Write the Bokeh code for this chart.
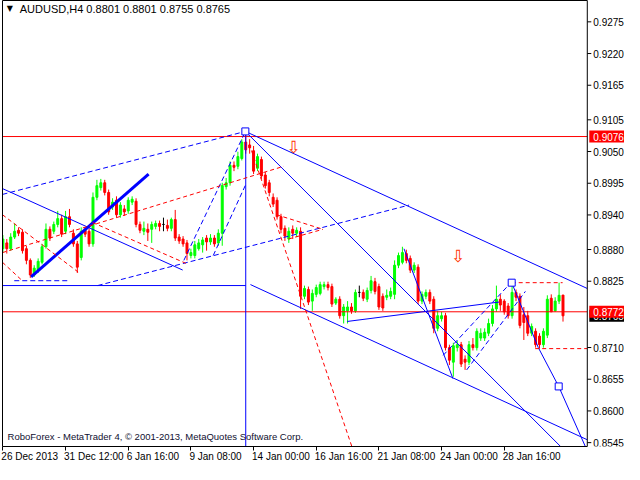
from bokeh.plotting import figure
from bokeh.models import Range1d, FixedTicker, Label, ColumnDataSource, Span, LinearAxis
from bokeh.embed import file_html
from bokeh.resources import INLINE
from bokeh.core.properties import value

title_text = "AUDUSD,H4  0.8801 0.8801 0.8755 0.8765"
footer_text = "RoboForex - MetaTrader 4, \u00a9 2001-2013, MetaQuotes Software Corp."

opens = [0.88814, 0.88915, 0.88814, 0.89016, 0.89134, 0.89100, 0.88814, 0.88612, 0.88359, 0.88443,
         0.88578, 0.88848, 0.89151, 0.89117, 0.89235, 0.89336, 0.89117, 0.89369, 0.89083, 0.88898,
         0.88662, 0.89134, 0.89117, 0.88898, 0.89706, 0.89874, 0.89958, 0.89790, 0.89538, 0.89655,
         0.89403, 0.89504, 0.89470, 0.89622, 0.89638, 0.89235, 0.89117, 0.89151, 0.89151, 0.89201,
         0.89252, 0.89235, 0.89218, 0.89168, 0.89319, 0.89016, 0.88982, 0.88915, 0.88696, 0.88696,
         0.88814, 0.88881, 0.88999, 0.88932, 0.88999, 0.88915, 0.89083, 0.89891, 0.89958, 0.90261,
         0.90244, 0.90379, 0.90664, 0.90614, 0.90513, 0.90210, 0.90362, 0.90093, 0.89958, 0.89706,
         0.89655, 0.89369, 0.89168, 0.88982, 0.89151, 0.89083, 0.89117, 0.87989, 0.88107, 0.87905,
         0.88022, 0.88039, 0.88157, 0.88191, 0.88157, 0.87871, 0.87938, 0.87652, 0.87736, 0.87803,
         0.87736, 0.88056, 0.88056, 0.87938, 0.88090, 0.88242, 0.88157, 0.87989, 0.87972, 0.87989,
         0.88022, 0.88528, 0.88578, 0.88730, 0.88646, 0.88443, 0.88494, 0.87905, 0.87989, 0.88056,
         0.87938, 0.87433, 0.87601, 0.87652, 0.87098, 0.86846, 0.87098, 0.87149, 0.86897, 0.86846,
         0.87149, 0.87098, 0.87264, 0.87264, 0.87348, 0.87517, 0.87770, 0.87938, 0.87905, 0.87820,
         0.87652, 0.88056, 0.87989, 0.87669, 0.87652, 0.87348, 0.87382, 0.87298, 0.87149, 0.87315,
         0.87955, 0.87736, 0.87905, 0.8801]
highs = [0.89050, 0.88982, 0.89083, 0.89252, 0.89185, 0.89151, 0.88865, 0.88646, 0.88528, 0.88646,
         0.88898, 0.89252, 0.89201, 0.89285, 0.89470, 0.89403, 0.89470, 0.89504, 0.89151, 0.88949,
         0.89185, 0.89185, 0.89168, 0.89790, 0.90009, 0.90025, 0.90009, 0.89840, 0.89689, 0.89723,
         0.89622, 0.89571, 0.89706, 0.89723, 0.89689, 0.89285, 0.89285, 0.89252, 0.89285, 0.89302,
         0.89302, 0.89353, 0.89319, 0.89353, 0.89487, 0.89067, 0.89033, 0.88966, 0.88814, 0.88949,
         0.88982, 0.89016, 0.89050, 0.89067, 0.89050, 0.89151, 0.89958, 0.90042, 0.90328, 0.90328,
         0.90496, 0.90715, 0.90800, 0.90715, 0.90597, 0.90463, 0.90412, 0.90143, 0.90009, 0.89773,
         0.89706, 0.89420, 0.89218, 0.89185, 0.89218, 0.89185, 0.89185, 0.88174, 0.88157, 0.88107,
         0.88191, 0.88242, 0.88242, 0.88242, 0.88208, 0.87972, 0.87989, 0.87854, 0.87905, 0.87871,
         0.88107, 0.88174, 0.88107, 0.88140, 0.88342, 0.88308, 0.88208, 0.88039, 0.88107, 0.88140,
         0.88612, 0.88747, 0.88848, 0.88797, 0.88696, 0.88578, 0.88544, 0.88073, 0.88107, 0.88107,
         0.87989, 0.87736, 0.87719, 0.87702, 0.87149, 0.87183, 0.87214, 0.87197, 0.86964, 0.87214,
         0.87264, 0.87433, 0.87433, 0.87433, 0.87601, 0.87837, 0.88174, 0.88022, 0.87938, 0.87871,
         0.88242, 0.88107, 0.88039, 0.87803, 0.87736, 0.87517, 0.87433, 0.87348, 0.87433, 0.88006,
         0.88022, 0.87972, 0.88225, 0.8801]
lows = [0.88747, 0.88730, 0.88780, 0.88982, 0.89033, 0.88730, 0.88544, 0.88308, 0.88325, 0.88393,
        0.88544, 0.88814, 0.88949, 0.89067, 0.89185, 0.89016, 0.89067, 0.89185, 0.88848, 0.88393,
        0.88612, 0.89016, 0.88848, 0.88848, 0.89655, 0.89823, 0.89739, 0.89403, 0.89487, 0.89353,
        0.89353, 0.89386, 0.89420, 0.89571, 0.89185, 0.89083, 0.89050, 0.88949, 0.88915, 0.89151,
        0.89117, 0.89117, 0.89117, 0.89117, 0.88949, 0.88898, 0.88848, 0.88612, 0.88646, 0.88646,
        0.88780, 0.88747, 0.88780, 0.88881, 0.88848, 0.88865, 0.88865, 0.89840, 0.89908, 0.90160,
        0.90193, 0.90345, 0.90463, 0.90463, 0.90109, 0.90160, 0.90025, 0.89857, 0.89723, 0.89538,
        0.89319, 0.89083, 0.88949, 0.88915, 0.88982, 0.89016, 0.87770, 0.87938, 0.87837, 0.87736,
        0.87972, 0.88006, 0.88107, 0.88090, 0.87803, 0.87837, 0.87601, 0.87517, 0.87517, 0.87685,
        0.87702, 0.87972, 0.87905, 0.87888, 0.88039, 0.88022, 0.87753, 0.87736, 0.87921, 0.87938,
        0.87938, 0.88477, 0.88544, 0.88561, 0.88393, 0.88393, 0.87854, 0.87854, 0.87938, 0.87854,
        0.87348, 0.87382, 0.87551, 0.87048, 0.86796, 0.86594, 0.87031, 0.86762, 0.86712, 0.86796,
        0.87048, 0.87048, 0.87214, 0.87214, 0.87298, 0.87466, 0.87719, 0.87736, 0.87669, 0.87601,
        0.87601, 0.87905, 0.87433, 0.87231, 0.87298, 0.87298, 0.87098, 0.87081, 0.87098, 0.87264,
        0.87719, 0.87719, 0.87854, 0.8755]
closes = [0.88982, 0.88814, 0.89016, 0.89117, 0.89083, 0.88780, 0.88612, 0.88359, 0.88477, 0.88595,
          0.88848, 0.89151, 0.88999, 0.89235, 0.89336, 0.89067, 0.89369, 0.89235, 0.88898, 0.88494,
          0.89117, 0.89067, 0.88898, 0.89706, 0.89908, 0.89958, 0.89790, 0.89453, 0.89622, 0.89403,
          0.89571, 0.89453, 0.89655, 0.89672, 0.89235, 0.89134, 0.89168, 0.89100, 0.89235, 0.89252,
          0.89201, 0.89235, 0.89168, 0.89319, 0.88999, 0.88949, 0.88898, 0.88730, 0.88747, 0.88881,
          0.88915, 0.88966, 0.88932, 0.88999, 0.88898, 0.89083, 0.89908, 0.89958, 0.90261, 0.90227,
          0.90412, 0.90664, 0.90530, 0.90564, 0.90160, 0.90412, 0.90076, 0.89908, 0.89790, 0.89588,
          0.89369, 0.89151, 0.89033, 0.89117, 0.89083, 0.89134, 0.87989, 0.88124, 0.87888, 0.88039,
          0.88140, 0.88191, 0.88191, 0.88140, 0.87854, 0.87938, 0.87652, 0.87803, 0.87803, 0.87736,
          0.88056, 0.88056, 0.87955, 0.88090, 0.88258, 0.88073, 0.87803, 0.87786, 0.88006, 0.88073,
          0.88528, 0.88696, 0.88747, 0.88612, 0.88443, 0.88528, 0.87905, 0.88022, 0.88056, 0.87905,
          0.87433, 0.87652, 0.87652, 0.87098, 0.86880, 0.87132, 0.87149, 0.86813, 0.86846, 0.87149,
          0.87098, 0.87382, 0.87348, 0.87365, 0.87517, 0.87770, 0.87938, 0.87837, 0.87719, 0.87652,
          0.88056, 0.87972, 0.87483, 0.87534, 0.87348, 0.87466, 0.87149, 0.87149, 0.87382, 0.87938,
          0.87719, 0.87905, 0.88006, 0.8765]

time_tick_bars = [0, 16, 32, 48, 64, 80, 96, 112, 128]
time_tick_labels = ["26 Dec 2013", "31 Dec 12:00", "6 Jan 16:00", "9 Jan 08:00", "14 Jan 00:00",
                    "16 Jan 16:00", "21 Jan 08:00", "24 Jan 00:00", "28 Jan 16:00"]
price_ticks = [0.9275, 0.9220, 0.9165, 0.9105, 0.9050, 0.8995, 0.8940, 0.8880, 0.8825,
               0.8710, 0.8655, 0.8600, 0.8545]
level_high = 0.9076
level_now = 0.8772
bid_price = 0.8765

# drawn objects (bar index, price)
blue_solid = [
    ([-0.1, 45.9], [0.89857, 0.88444]),
    ([61.9, 149.2], [0.90849, 0.88124]),
    ([61.9, 149.2], [0.90849, 0.84920]),
    ([63.2, 149.2], [0.88192, 0.85500]),
    ([87.9, 126.7], [0.87552, 0.87889]),
    ([102.4, 114.9], [0.88814, 0.86560]),
    ([129.9, 136.7, 141.9, 148.7], [0.88225, 0.87098, 0.86425, 0.85383]),
    ([-0.5, 62.0], [0.88175, 0.88175]),
    ([62.0, 62.0], [0.90849, 0.85300]),
]
blue_thick = [([7.2, 37.2], [0.88326, 0.90109])]
blue_dashed = [
    ([-0.1, 61.9], [0.89756, 0.90849]),
    ([24.2, 103.7], [0.88175, 0.89571]),
    ([2.9, 17.2], [0.88259, 0.88259]),
    ([46.2, 61.7], [0.88612, 0.90816]),
    ([53.7, 62.2], [0.88696, 0.89958]),
    ([112.4, 129.7], [0.86964, 0.88225]),
    ([118.4, 133.4], [0.86711, 0.88074]),
]
red_dashed = [
    ([-0.1, 71.7], [0.88747, 0.90244]),
    ([62.9, 89.5], [0.90631, 0.85300]),
    ([-0.1, 19.2], [0.89403, 0.88410]),
    ([22.9, 46.7], [0.89268, 0.88561]),
    ([-0.1, 4.7], [0.88578, 0.88275]),
    ([69.9, 81.7], [0.89403, 0.89151]),
    ([72.9, 81.7], [0.88982, 0.89151]),
    ([129.9, 142.9], [0.88225, 0.88225]),
    ([135.9, 149.2], [0.87081, 0.87081]),
]
squares_x = [61.9, 129.9, 141.9]
squares_y = [0.90849, 0.88225, 0.86425]
arrows_x = [74.2, 116.2]
arrows_y = [0.9058, 0.88696]

FONT = "Liberation Sans"
W, H = 624, 464
X0, X_EDGE, X1 = -0.1, 149.2, 158.7     # chart area ends at X_EDGE; price scale lives to the right
Y0, Y1 = 0.85383, 0.93120

p = figure(width=W, height=H, x_range=Range1d(X0, X1), y_range=Range1d(Y0, Y1),
           output_backend="svg", toolbar_location=None, x_axis_location=None, y_axis_location=None,
           min_border_left=2, min_border_top=0, min_border_right=0, min_border_bottom=0)
p.outline_line_color = None
p.grid.visible = False
p.background_fill_color = "white"
p.border_fill_color = "white"

px_per_bar = (W - 2) / (X1 - X0)

# border lines via axes (left, top, bottom)
left_ax = LinearAxis(ticker=FixedTicker(ticks=[]), major_tick_line_color=None, minor_tick_line_color=None,
                     major_label_text_font_size="0px", axis_line_color="black",
                     major_tick_out=0, major_tick_in=0, minor_tick_out=0, major_label_standoff=0)
p.add_layout(left_ax, "left")
top_ax = LinearAxis(ticker=FixedTicker(ticks=[]), major_tick_line_color=None, minor_tick_line_color=None,
                    major_label_text_font_size="0px", axis_line_color="black", bounds=(X0, X_EDGE),
                    major_tick_out=0, major_tick_in=0, minor_tick_out=0, major_label_standoff=0)
p.add_layout(top_ax, "above")

# bottom axis: tick marks
tick_ax = LinearAxis(ticker=FixedTicker(ticks=time_tick_bars), bounds=(X0, X_EDGE),
                     major_label_overrides={t: "" for t in time_tick_bars},
                     major_label_text_font_size="0px", major_label_standoff=0,
                     axis_line_color="black", major_tick_line_color="black",
                     major_tick_out=4, major_tick_in=0, minor_tick_line_color=None,
                     minor_tick_out=0, minor_tick_in=0)
p.add_layout(tick_ax, "below")

# bottom axis: left-aligned date labels (centre shifted by half the label width)
cw = {" ": 2.78, ":": 2.78, "D": 7.22, "e": 5.56, "c": 5.0, "J": 5.0, "a": 5.56, "n": 5.56}
centers, overrides = [], {}
for tb, tl in zip(time_tick_bars, time_tick_labels):
    wpx = sum(cw.get(ch, 5.56) for ch in tl)
    c = round(tb + (wpx / 2 - 1.5) / px_per_bar, 2)
    centers.append(c)
    overrides[c] = tl
lab_ax = LinearAxis(ticker=FixedTicker(ticks=centers), major_label_overrides=overrides,
                    major_label_text_font=FONT, major_label_text_font_size="10px",
                    major_label_text_color="black", major_label_standoff=0,
                    axis_line_color=None, major_tick_line_color=None, minor_tick_line_color=None,
                    major_tick_out=0, major_tick_in=0, minor_tick_out=0, minor_tick_in=0)
p.add_layout(lab_ax, "below")

# candles
n = len(opens)
bars = list(range(n))
colors = ["#00ff00" if c > o else ("#ff0000" if c < o else "#000000") for o, c in zip(opens, closes)]
src = ColumnDataSource(dict(x=bars, h=highs, l=lows,
                            top=[max(o, c) for o, c in zip(opens, closes)],
                            bottom=[min(o, c) for o, c in zip(opens, closes)],
                            color=colors))
p.segment(x0="x", y0="l", x1="x", y1="h", line_color="color", line_width=1, source=src)
p.vbar(x="x", width=0.5, top="top", bottom="bottom", fill_color="color", line_color="color",
       line_width=1, source=src)

# horizontal levels (chart area only)
for lv in [level_high, level_now]:
    p.line([X0, X_EDGE], [lv, lv], line_color="#ff0000", line_width=1)

for xs, ys in blue_solid:
    p.line(xs, ys, line_color="#0000ff", line_width=1)
for xs, ys in blue_thick:
    p.line(xs, ys, line_color="#0000ff", line_width=3)
for xs, ys in blue_dashed:
    p.line(xs, ys, line_color="#0000ff", line_width=1, line_dash="5 3")
for xs, ys in red_dashed:
    p.line(xs, ys, line_color="#ff0000", line_width=1, line_dash="4 3")

p.scatter(squares_x, squares_y, marker="square", size=7, fill_color="white", line_color="#0000ff")

p.text(x=arrows_x, y=arrows_y, text=["\u21e9"] * len(arrows_x), text_font=value("DejaVu Sans"),
       text_font_size="17px", text_color="#ff3300", text_align="center", text_baseline="middle")

# white cover for the price-scale strip, then the right border of the chart
p.quad(left=[X_EDGE], right=[X1 + 1], bottom=[Y0 - 0.01], top=[Y1 + 0.01],
       fill_color="white", line_color=None)
p.add_layout(Span(location=X_EDGE, dimension="height", line_color="black", line_width=1))

# price scale (right side)
tick_len = 4 / px_per_bar
p.segment(x0=[X_EDGE] * len(price_ticks), y0=price_ticks,
          x1=[X_EDGE + tick_len] * len(price_ticks), y1=price_ticks, line_color="black")
p.text(x=[X_EDGE + 6 / px_per_bar] * len(price_ticks), y=price_ticks,
       text=["%.4f" % t for t in price_ticks], text_font=value(FONT), text_font_size="10px",
       text_color="black", text_align="left", text_baseline="middle")

box_h = 12 / ((H - 18) / (Y1 - Y0))
box_l = X_EDGE + 2 / px_per_bar
for lv, col in [(bid_price, "#000000"), (level_high, "#ff0000"), (level_now, "#ff0000")]:
    p.quad(left=[box_l], right=[X1], bottom=[lv - box_h / 2], top=[lv + box_h / 2],
           fill_color=col, line_color=None)
    p.text(x=[X_EDGE + 6 / px_per_bar], y=[lv], text=["%.4f" % lv], text_font=value(FONT),
           text_font_size="10px", text_color="white", text_align="left", text_baseline="middle")

# texts inside the chart
p.text(x=[1.0], y=[0.92986], text=["\u25bc"], text_font=value("DejaVu Sans"), text_font_size="8px",
       text_color="black", text_align="left", text_baseline="middle")
p.text(x=[4.3], y=[0.93070], text=[title_text], text_font=value(FONT), text_font_size="11px",
       text_color="black", text_baseline="top")
p.text(x=[1.2], y=[0.85652], text=[footer_text], text_font=value(FONT), text_font_size="9.5px",
       text_color="#101030", text_baseline="top")

open("out.html", "w").write(file_html(p, INLINE))
